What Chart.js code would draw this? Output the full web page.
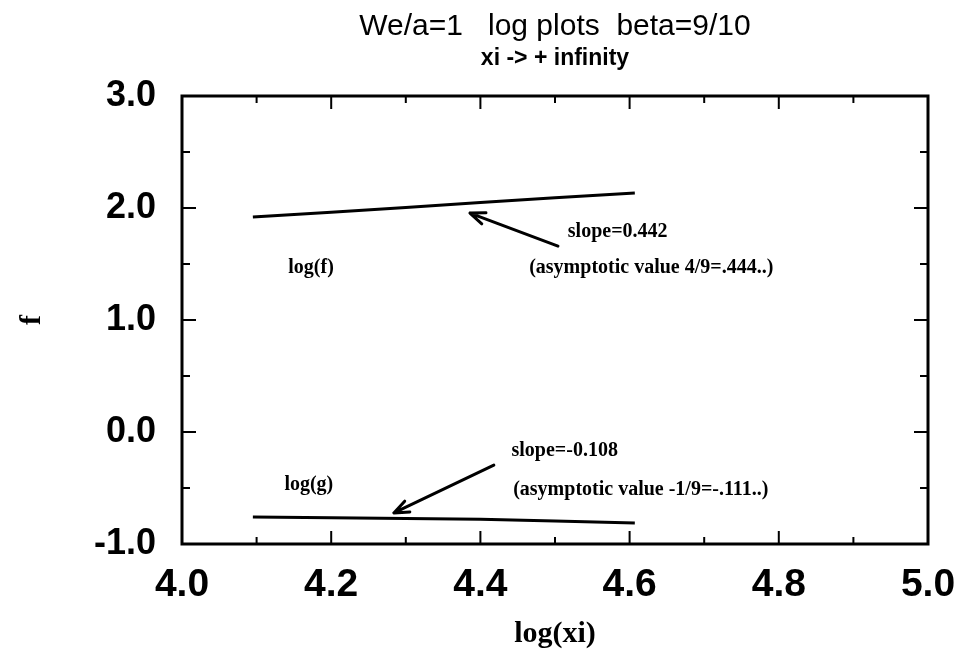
<!DOCTYPE html>
<html>
<head>
<meta charset="utf-8">
<script src="https://cdn.jsdelivr.net/npm/chart.js@4/dist/chart.umd.min.js"></script>
<style>
html,body{margin:0;padding:0;background:#fff;}
#wrap{width:961px;height:658px;}
</style>
</head>
<body>
<div id="wrap"><canvas id="c" width="961" height="658"></canvas></div>
<script>
// ---- data ----
const titleText = 'We/a=1   log plots  beta=9/10';
const subtitleText = 'xi -> + infinity';
const xAxisTitle = 'log(xi)';
const yAxisTitle = 'f';
const xTickLabels = ['4.0', '4.2', '4.4', '4.6', '4.8', '5.0'];
const yTickLabels = ['-1.0', '0.0', '1.0', '2.0', '3.0'];

const logXi = [4.095, 4.2, 4.3, 4.4, 4.5, 4.607];
const logF  = [1.92, 1.962, 2.005, 2.05, 2.092, 2.135];
const logG  = [-0.76, -0.765, -0.772, -0.78, -0.795, -0.812];

const noteTexts = ['log(f)', 'slope=0.442', '(asymptotic value 4/9=.444..)', 'slope=-0.108', 'log(g)', '(asymptotic value -1/9=-.111..)'];
const noteX = [4.173, 4.584, 4.629, 4.513, 4.170, 4.615];
const noteY = [1.464, 1.786, 1.464, -0.17, -0.473, -0.518];

const arrowFrom = [[4.504, 1.66], [4.418, -0.295]];
const arrowTo   = [[4.386, 1.955], [4.284, -0.723]];

// ---- build ----
const fData = logXi.map((x, i) => ({x: x, y: logF[i]}));
const gData = logXi.map((x, i) => ({x: x, y: logG[i]}));

function fmtLabel(value, labels) {
  let s = Number(value).toFixed(1);
  if (s === '-0.0') s = '0.0';
  return labels.indexOf(s) >= 0 ? s : '';
}

const framePlugin = {
  id: 'frame',
  afterDraw(chart) {
    const ctx = chart.ctx;
    const a = chart.chartArea;
    const xs = chart.scales.x, ys = chart.scales.y;
    ctx.save();
    ctx.strokeStyle = '#000';
    ctx.lineWidth = 3;
    ctx.strokeRect(a.left, a.top, a.right - a.left, a.bottom - a.top);
    ctx.lineWidth = 2;
    xs.ticks.forEach(t => {
      const major = fmtLabel(t.value, xTickLabels) !== '';
      const len = major ? 13 : 7;
      const px = xs.getPixelForValue(t.value);
      ctx.beginPath();
      ctx.moveTo(px, a.bottom); ctx.lineTo(px, a.bottom - len);
      ctx.moveTo(px, a.top); ctx.lineTo(px, a.top + len);
      ctx.stroke();
    });
    ys.ticks.forEach(t => {
      const major = fmtLabel(t.value, yTickLabels) !== '';
      const len = major ? 14 : 8;
      const py = ys.getPixelForValue(t.value);
      ctx.beginPath();
      ctx.moveTo(a.left, py); ctx.lineTo(a.left + len, py);
      ctx.moveTo(a.right, py); ctx.lineTo(a.right - len, py);
      ctx.stroke();
    });
    // titles
    const cx = (a.left + a.right) / 2;
    ctx.fillStyle = '#000';
    ctx.textAlign = 'center';
    ctx.textBaseline = 'alphabetic';
    ctx.font = '30px "Liberation Sans", Arial, sans-serif';
    ctx.fillText(titleText, cx, 35);
    ctx.font = 'bold 23px "Liberation Sans", Arial, sans-serif';
    ctx.fillText(subtitleText, cx, 65);
    // notes
    ctx.font = 'bold 20px "Liberation Serif", "Times New Roman", serif';
    ctx.textBaseline = 'middle';
    noteTexts.forEach((t, i) => {
      ctx.fillText(t, xs.getPixelForValue(noteX[i]), ys.getPixelForValue(noteY[i]));
    });
    // arrows
    ctx.lineWidth = 3;
    ctx.lineCap = 'round';
    ctx.lineJoin = 'round';
    arrowFrom.forEach((f, i) => {
      const x1 = xs.getPixelForValue(f[0]), y1 = ys.getPixelForValue(f[1]);
      const x2 = xs.getPixelForValue(arrowTo[i][0]), y2 = ys.getPixelForValue(arrowTo[i][1]);
      const ang = Math.atan2(y2 - y1, x2 - x1);
      ctx.beginPath();
      ctx.moveTo(x1, y1); ctx.lineTo(x2, y2);
      const h = 16, w = 0.38;
      ctx.moveTo(x2 - h * Math.cos(ang - w), y2 - h * Math.sin(ang - w));
      ctx.lineTo(x2, y2);
      ctx.lineTo(x2 - h * Math.cos(ang + w), y2 - h * Math.sin(ang + w));
      ctx.stroke();
    });
    ctx.restore();
  }
};

new Chart(document.getElementById('c'), {
  type: 'scatter',
  data: {
    datasets: [
      {label: 'log(f)', data: fData, showLine: true, borderColor: '#000', borderWidth: 3, pointRadius: 0, tension: 0},
      {label: 'log(g)', data: gData, showLine: true, borderColor: '#000', borderWidth: 3, pointRadius: 0, tension: 0}
    ]
  },
  options: {
    responsive: false,
    animation: false,
    layout: {padding: {top: 96, right: 33, left: 0, bottom: 6}},
    plugins: {legend: {display: false}, tooltip: {enabled: false}, title: {display: false}},
    scales: {
      x: {
        type: 'linear', min: 4, max: 5,
        grid: {display: true, drawOnChartArea: false, drawTicks: false},
        border: {display: false},
        ticks: {
          stepSize: 0.1, autoSkip: false, maxRotation: 0, padding: 18, color: '#000',
          font: {family: '"Liberation Sans", Arial, sans-serif', weight: 'bold', size: 39},
          callback: v => fmtLabel(v, xTickLabels)
        },
        title: {display: true, text: xAxisTitle, color: '#000', padding: {top: 0, bottom: 0},
          font: {family: '"Liberation Serif", "Times New Roman", serif', weight: 'bold', size: 30}},
        afterFit(s) { s.height = 658 - 6 - 544; s.paddingLeft = 0; s.paddingRight = 0; }
      },
      y: {
        type: 'linear', min: -1, max: 3,
        grid: {display: true, drawOnChartArea: false, drawTicks: false},
        border: {display: false},
        ticks: {
          stepSize: 0.5, autoSkip: false, padding: 26, color: '#000',
          font: {family: '"Liberation Sans", Arial, sans-serif', weight: 'bold', size: 36},
          callback: v => fmtLabel(v, yTickLabels)
        },
        title: {display: true, text: yAxisTitle, color: '#000', padding: {top: 14, bottom: 0},
          font: {family: '"Liberation Serif", "Times New Roman", serif', weight: 'bold', size: 30}},
        afterFit(s) { s.width = 182; s.paddingTop = 0; s.paddingBottom = 0; }
      }
    }
  },
  plugins: [framePlugin]
});
</script>
</body>
</html>
